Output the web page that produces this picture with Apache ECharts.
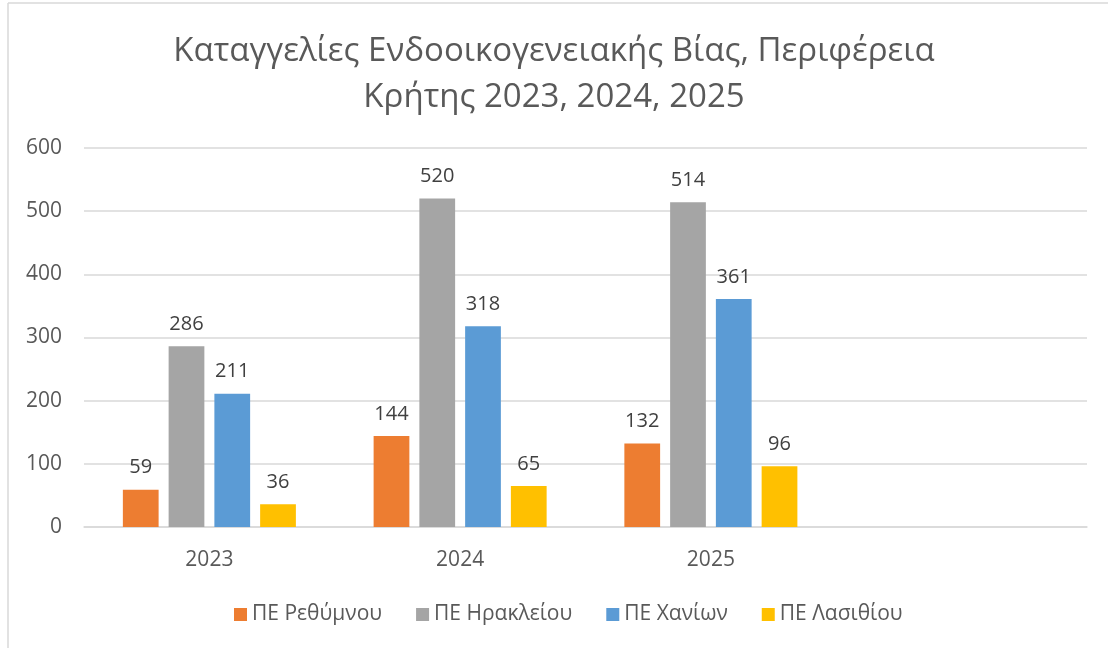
<!DOCTYPE html>
<html>
<head>
<meta charset="utf-8">
<script src="https://cdn.jsdelivr.net/npm/echarts@6/dist/echarts.min.js"></script>
<style>
html,body{margin:0;padding:0;background:#fff;}
#chart{width:1108px;height:648px;}
</style>
</head>
<body>
<div id="chart"></div>
<script>
const categories = ['2023', '2024', '2025', ''];
const seriesNames = ['ΠΕ Ρεθύμνου', 'ΠΕ Ηρακλείου', 'ΠΕ Χανίων', 'ΠΕ Λασιθίου'];
const rethymno = [59, 144, 132, null];
const heraklion = [286, 520, 514, null];
const chania = [211, 318, 361, null];
const lasithi = [36, 65, 96, null];
const yTicks = [0, 100, 200, 300, 400, 500, 600];
const colors = ['#ED7D31', '#A5A5A5', '#5B9BD5', '#FFC000'];
const titleText = 'Καταγγελίες Ενδοοικογενειακής Βίας, Περιφέρεια\nΚρήτης 2023, 2024, 2025';

const FONT = "'Open Sans', 'Noto Sans', sans-serif";
const values = [rethymno, heraklion, chania, lasithi];

const chart = echarts.init(document.getElementById('chart'), null, {renderer: 'canvas'});
chart.setOption({
  backgroundColor: '#fff',
  animation: false,
  title: {
    text: titleText,
    left: 'center',
    top: 24,
    textStyle: {
      fontFamily: FONT,
      fontWeight: 'normal',
      fontSize: 33,
      lineHeight: 46,
      color: '#595959'
    }
  },
  graphic: [
    {type: 'line', shape: {x1: 8, y1: 3, x2: 1108, y2: 3}, style: {stroke: '#D9D9D9', lineWidth: 1.5}, silent: true},
    {type: 'line', shape: {x1: 8, y1: 3, x2: 8, y2: 648}, style: {stroke: '#D9D9D9', lineWidth: 1.5}, silent: true}
  ],
  legend: {
    bottom: 18,
    left: 229,
    itemWidth: 13,
    itemHeight: 13,
    itemGap: 34,
    icon: 'rect',
    textStyle: {fontFamily: FONT, fontSize: 21, color: '#595959'},
    data: seriesNames
  },
  grid: {left: 84, right: 21, top: 148, bottom: 121, containLabel: false},
  xAxis: {
    type: 'category',
    data: categories,
    axisLine: {show: true, lineStyle: {color: '#D9D9D9', width: 1.5}},
    axisTick: {show: false},
    axisLabel: {fontFamily: FONT, fontSize: 21, color: '#595959', margin: 23}
  },
  yAxis: {
    type: 'value',
    min: yTicks[0],
    max: yTicks[yTicks.length - 1],
    interval: 100,
    axisLine: {show: false},
    axisTick: {show: false},
    splitLine: {lineStyle: {color: '#D9D9D9', width: 1.5}},
    axisLabel: {fontFamily: FONT, fontSize: 21, color: '#595959', margin: 22}
  },
  series: seriesNames.map((name, i) => ({
    name: name,
    type: 'bar',
    data: values[i],
    barGap: '28%',
    barCategoryGap: '31%',
    itemStyle: {color: colors[i]},
    label: {
      show: true,
      position: 'top',
      distance: 12,
      fontFamily: FONT,
      fontSize: 20,
      color: '#404040'
    }
  }))
});
</script>
</body>
</html>
